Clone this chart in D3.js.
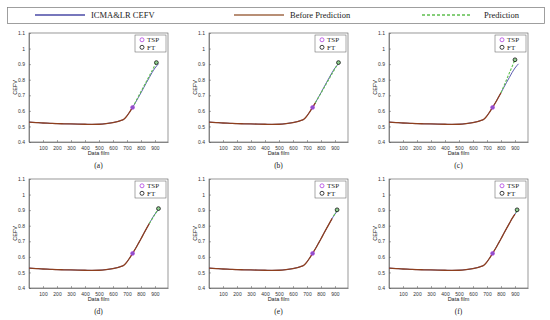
<!DOCTYPE html>
<html>
<head>
<meta charset="utf-8">
<script src="https://cdn.jsdelivr.net/npm/d3@7"></script>
<style>
  body { margin: 0; background: #fff; }
  svg { display: block; }
</style>
</head>
<body>
<svg id="fig" width="550" height="320"></svg>
<script>
// ---- data ----
const panelNames = ["(a)", "(b)", "(c)", "(d)", "(e)", "(f)"];
const xTicks = [100, 200, 300, 400, 500, 600, 700, 800, 900];
const yTicks = [0.4, 0.5, 0.6, 0.7, 0.8, 0.9, 1, 1.1];

// ICMA&LR CEFV curve (whole record)
const cefvX = [0, 50, 100, 150, 200, 250, 300, 350, 400, 450, 500, 550, 600, 650, 680, 700, 720, 740,
               760, 780, 800, 820, 840, 860, 880, 900, 925];
const cefvY = [0.528, 0.525, 0.522, 0.520, 0.518, 0.517, 0.516, 0.515, 0.514, 0.513, 0.514, 0.518, 0.525, 0.536, 0.548, 0.568, 0.594, 0.622,
               0.652, 0.684, 0.716, 0.750, 0.783, 0.815, 0.847, 0.875, 0.902];

// where "before prediction" stops in each panel
const beforeEnd = [740, 760, 800, 860, 890, 905];

// TSP point, FT point per panel
const tspX = 740, tspY = 0.622;
const ftX = [910, 925, 900, 925, 915, 915];
const ftY = [0.910, 0.910, 0.928, 0.910, 0.902, 0.902];

// prediction start per panel (end is FT)
const predStartX = [740, 760, 800, 860, 890, 905];
const predStartY = [0.622, 0.652, 0.716, 0.815, 0.862, 0.884];

const colBlue = "#4a4aa6", colBrown = "#8e3f1e", colGreen = "#5fbf4f";

const svg = d3.select("#fig");

// ---- top legend ----
const lg = svg.append("g");
lg.append("rect").attr("x", 7.5).attr("y", 7.5).attr("width", 537).attr("height", 16)
  .attr("fill", "none").attr("stroke", "#888").attr("stroke-width", 0.8);
const legItems = [
  {x: 35, label: "ICMA&LR CEFV", color: colBlue, dash: null},
  {x: 234, label: "Before Prediction", color: "#a06a48", dash: null},
  {x: 422, label: "Prediction", color: colGreen, dash: "3,2"}
];
legItems.forEach(d => {
  lg.append("line").attr("x1", d.x).attr("x2", d.x + 50).attr("y1", 15).attr("y2", 15)
    .attr("stroke", d.color).attr("stroke-width", 1.6).attr("stroke-dasharray", d.dash);
  lg.append("text").attr("x", d.x + (d.label === "Prediction" ? 62 : 56)).attr("y", 18)
    .attr("font-family", "Liberation Serif, serif").attr("font-size", 8.5).attr("fill", "#222")
    .text(d.label);
});

// ---- panels ----
const colLeft = [29, 209, 389];
const rowTop = [33, 179];
const W = 139, H = 109;

const cefv = cefvX.map((x, i) => [x, cefvY[i]]);

panelNames.forEach((name, p) => {
  const left = colLeft[p % 3], top = rowTop[Math.floor(p / 3)];
  const x = d3.scaleLinear().domain([0, 993]).range([0, W]);
  const y = d3.scaleLinear().domain([0.4, 1.1]).range([H, 0]);
  const g = svg.append("g").attr("transform", `translate(${left},${top})`);

  // box
  g.append("rect").attr("width", W).attr("height", H)
    .attr("fill", "none").attr("stroke", "#555").attr("stroke-width", 0.6);

  // axes with inward ticks
  const ax = g.append("g").attr("transform", `translate(0,${H})`)
    .call(d3.axisBottom(x).tickValues(xTicks).tickSizeInner(-2).tickSizeOuter(0).tickPadding(4));
  const ay = g.append("g")
    .call(d3.axisLeft(y).tickValues(yTicks).tickSizeInner(-2).tickSizeOuter(0).tickPadding(4)
      .tickFormat(d3.format("~g")));
  [ax, ay].forEach(a => {
    a.select(".domain").attr("stroke", "#555").attr("stroke-width", 0.6);
    a.selectAll(".tick line").attr("stroke", "#555").attr("stroke-width", 0.5);
    a.selectAll("text").attr("font-family", "Liberation Sans, Arial, sans-serif")
      .attr("font-size", 5).attr("fill", "#333");
  });

  // axis labels
  g.append("text").attr("x", W / 2).attr("y", H + 13).attr("text-anchor", "middle")
    .attr("font-family", "Liberation Sans, Arial, sans-serif").attr("font-size", 5.5).attr("fill", "#222")
    .text("Data film");
  g.append("text").attr("transform", `translate(-12,${H / 2}) rotate(-90)`).attr("text-anchor", "middle")
    .attr("font-family", "Liberation Sans, Arial, sans-serif").attr("font-size", 5.5).attr("fill", "#222")
    .text("CEFV");
  g.append("text").attr("x", W / 2).attr("y", H + 26).attr("text-anchor", "middle")
    .attr("font-family", "Liberation Serif, serif").attr("font-size", 7.5).attr("fill", "#222")
    .text(name);

  const line = d3.line().x(d => x(d[0])).y(d => y(d[1])).curve(d3.curveMonotoneX);

  // ICMA&LR CEFV
  g.append("path").datum(cefv).attr("d", line)
    .attr("fill", "none").attr("stroke", colBlue).attr("stroke-width", 0.9);

  // before prediction
  const before = cefv.filter(d => d[0] <= beforeEnd[p]);
  g.append("path").datum(before).attr("d", line)
    .attr("fill", "none").attr("stroke", colBrown).attr("stroke-width", 1.3);

  // prediction
  const pred = [[predStartX[p], predStartY[p]], [ftX[p], ftY[p]]];
  g.append("path").datum(pred).attr("d", d3.line().x(d => x(d[0])).y(d => y(d[1])))
    .attr("fill", "none").attr("stroke", colGreen).attr("stroke-width", 1.1).attr("stroke-dasharray", "2.5,1.5");

  // markers
  g.append("circle").attr("cx", x(tspX)).attr("cy", y(tspY)).attr("r", 1.9)
    .attr("fill", "#8a55c8").attr("stroke", "#b040e0").attr("stroke-width", 0.7);
  g.append("circle").attr("cx", x(ftX[p])).attr("cy", y(ftY[p])).attr("r", 1.9)
    .attr("fill", "#8fd08f").attr("stroke", "#111").attr("stroke-width", 0.8);

  // inner legend
  const il = g.append("g").attr("transform", `translate(${W - 33},2)`);
  il.append("rect").attr("width", 31).attr("height", 17)
    .attr("fill", "#fff").attr("stroke", "#555").attr("stroke-width", 0.5);
  il.append("circle").attr("cx", 7).attr("cy", 4.8).attr("r", 2)
    .attr("fill", "none").attr("stroke", "#b040e0").attr("stroke-width", 0.8);
  il.append("circle").attr("cx", 7).attr("cy", 12.3).attr("r", 2)
    .attr("fill", "none").attr("stroke", "#111").attr("stroke-width", 0.8);
  il.append("text").attr("x", 12).attr("y", 7.2).attr("font-family", "Liberation Serif, serif")
    .attr("font-size", 7).attr("fill", "#222").text("TSP");
  il.append("text").attr("x", 12).attr("y", 14.8).attr("font-family", "Liberation Serif, serif")
    .attr("font-size", 7).attr("fill", "#222").text("FT");
});
</script>
</body>
</html>
